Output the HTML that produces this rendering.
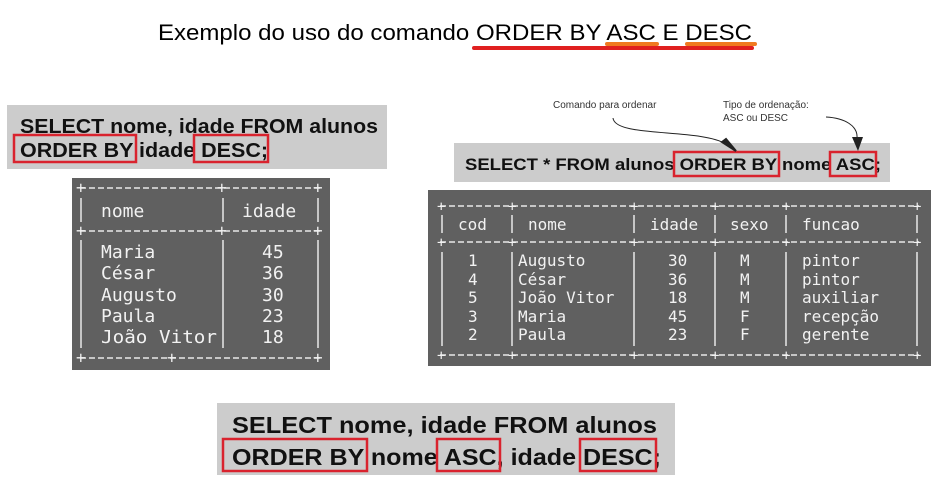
<!DOCTYPE html>
<html><head><meta charset="utf-8"><style>
html,body{margin:0;padding:0;background:#fff;}
svg{display:block;}
.m{font-family:"DejaVu Sans Mono","Liberation Mono",monospace;fill:#f2f2f2;}
.b{font-family:"Liberation Sans",sans-serif;font-weight:bold;fill:#111;}
</style></head><body>
<svg width="946" height="504" viewBox="0 0 946 504" xmlns="http://www.w3.org/2000/svg">
<text x="158" y="40" font-family="Liberation Sans,sans-serif" font-size="22" fill="#000" textLength="594" lengthAdjust="spacingAndGlyphs">Exemplo do uso do comando ORDER BY ASC E DESC</text>
<line x1="474" y1="48" x2="752" y2="48" stroke="#e02020" stroke-width="4" stroke-linecap="round"/>
<line x1="607" y1="44" x2="657" y2="44" stroke="#f07a20" stroke-width="4" stroke-linecap="round"/>
<line x1="687" y1="44" x2="755" y2="44" stroke="#f07a20" stroke-width="4" stroke-linecap="round"/>

<!-- left sql -->
<rect x="7" y="105" width="380" height="64" fill="#cccccc"/>
<text class="b" x="20" y="133" font-size="20" textLength="358" lengthAdjust="spacingAndGlyphs">SELECT nome, idade FROM alunos</text>
<text class="b" x="20" y="157" font-size="20" textLength="248" lengthAdjust="spacingAndGlyphs">ORDER BY idade DESC;</text>
<rect x="14" y="135" width="122" height="27" fill="none" stroke="#d9232e" stroke-width="2.5"/>
<rect x="194" y="135" width="74" height="27" fill="none" stroke="#d9232e" stroke-width="2.5"/>

<!-- left table -->
<rect x="72" y="178" width="258" height="192" fill="#606060"/>
<g stroke="#e8e8e8" stroke-width="1.5" stroke-dasharray="6,3">
<line x1="80" y1="188" x2="320" y2="188"/><line x1="80" y1="231" x2="320" y2="231"/><line x1="80" y1="358" x2="320" y2="358"/></g>
<g class="m" font-size="16"><text x="76" y="193">+</text><text x="217" y="193">+</text><text x="313" y="193">+</text>
<text x="76" y="236">+</text><text x="217" y="236">+</text><text x="313" y="236">+</text>
<text x="76" y="363">+</text><text x="167" y="363">+</text><text x="313" y="363">+</text></g>
<g stroke="#e8e8e8" stroke-width="1.5">
<line x1="81" y1="198" x2="81" y2="222"/><line x1="223" y1="198" x2="223" y2="222"/><line x1="318" y1="198" x2="318" y2="222"/>
<line x1="81" y1="240" x2="81" y2="348"/><line x1="223" y1="240" x2="223" y2="348"/><line x1="318" y1="240" x2="318" y2="348"/></g>
<text class="m" font-size="18" x="101" y="217">nome</text><text class="m" font-size="18" x="242" y="217">idade</text>
<g class="m" font-size="18">
<text x="101" y="258">Maria</text><text x="101" y="279">César</text><text x="101" y="301">Augusto</text><text x="101" y="322">Paula</text><text x="101" y="343" textLength="116" lengthAdjust="spacingAndGlyphs">João Vitor</text>
<text x="262" y="258">45</text><text x="262" y="279">36</text><text x="262" y="301">30</text><text x="262" y="322">23</text><text x="262" y="343">18</text></g>

<!-- right sql -->
<rect x="454" y="143" width="436" height="39" fill="#cccccc"/>
<text class="b" x="465" y="170" font-size="17" textLength="416" lengthAdjust="spacingAndGlyphs">SELECT * FROM alunos ORDER BY nome ASC;</text>
<rect x="674" y="152" width="105" height="24" fill="none" stroke="#d9232e" stroke-width="2.5"/>
<rect x="830" y="152" width="46" height="24" fill="none" stroke="#d9232e" stroke-width="2.5"/>

<!-- annotations -->
<text x="553" y="108" font-family="Liberation Sans,sans-serif" font-size="10" fill="#333">Comando para ordenar</text>
<text x="723" y="108" font-family="Liberation Sans,sans-serif" font-size="10" fill="#333">Tipo de ordenação:</text>
<text x="723" y="121" font-family="Liberation Sans,sans-serif" font-size="10" fill="#333">ASC ou DESC</text>
<path d="M613,118 C615,138 700,128 726,144" fill="none" stroke="#222" stroke-width="1"/>
<path d="M722,142 L736,151 L726,139 Z" fill="#222" stroke="#222" stroke-width="2"/>
<path d="M826,117 C845,118 858,126 857,138" fill="none" stroke="#222" stroke-width="1"/>
<polygon points="852,137 863,137 858,151" fill="#222"/>

<!-- right table -->
<rect x="428" y="190" width="503" height="176" fill="#606060"/>
<g stroke="#e8e8e8" stroke-width="1.5" stroke-dasharray="6,3">
<line x1="440" y1="206" x2="919" y2="206"/><line x1="440" y1="242" x2="919" y2="242"/><line x1="440" y1="355" x2="919" y2="355"/></g>
<g class="m" font-size="14">
<text x="437" y="211">+</text><text x="508" y="211">+</text><text x="630" y="211">+</text><text x="711" y="211">+</text><text x="782" y="211">+</text><text x="913" y="211">+</text>
<text x="437" y="247">+</text><text x="508" y="247">+</text><text x="630" y="247">+</text><text x="711" y="247">+</text><text x="782" y="247">+</text><text x="913" y="247">+</text>
<text x="437" y="360">+</text><text x="508" y="360">+</text><text x="630" y="360">+</text><text x="711" y="360">+</text><text x="782" y="360">+</text><text x="913" y="360">+</text></g>
<g stroke="#e8e8e8" stroke-width="1.5">
<line x1="442" y1="215" x2="442" y2="233"/><line x1="512" y1="215" x2="512" y2="233"/><line x1="634" y1="215" x2="634" y2="233"/><line x1="715" y1="215" x2="715" y2="233"/><line x1="786" y1="215" x2="786" y2="233"/><line x1="917" y1="215" x2="917" y2="233"/>
<line x1="442" y1="252" x2="442" y2="346"/><line x1="512" y1="252" x2="512" y2="346"/><line x1="634" y1="252" x2="634" y2="346"/><line x1="715" y1="252" x2="715" y2="346"/><line x1="786" y1="252" x2="786" y2="346"/><line x1="917" y1="252" x2="917" y2="346"/></g>
<g class="m" font-size="16">
<text x="458" y="230">cod</text><text x="528" y="230">nome</text><text x="650" y="230">idade</text><text x="730" y="230">sexo</text><text x="802" y="230">funcao</text>
<text x="468" y="266">1</text><text x="468" y="285">4</text><text x="468" y="303">5</text><text x="468" y="322">3</text><text x="468" y="340">2</text>
<text x="518" y="266">Augusto</text><text x="518" y="285">César</text><text x="518" y="303">João Vitor</text><text x="518" y="322">Maria</text><text x="518" y="340">Paula</text>
<text x="668" y="266">30</text><text x="668" y="285">36</text><text x="668" y="303">18</text><text x="668" y="322">45</text><text x="668" y="340">23</text>
<text x="740" y="266">M</text><text x="740" y="285">M</text><text x="740" y="303">M</text><text x="740" y="322">F</text><text x="740" y="340">F</text>
<text x="802" y="266">pintor</text><text x="802" y="285">pintor</text><text x="802" y="303">auxiliar</text><text x="802" y="322">recepção</text><text x="802" y="340">gerente</text></g>

<!-- bottom sql -->
<rect x="217" y="403" width="458" height="72" fill="#cccccc"/>
<text class="b" x="232" y="433" font-size="23" textLength="425" lengthAdjust="spacingAndGlyphs">SELECT nome, idade FROM alunos</text>
<text class="b" x="232" y="465" font-size="23" textLength="429" lengthAdjust="spacingAndGlyphs">ORDER BY nome ASC, idade DESC;</text>
<rect x="223" y="439" width="144" height="32" fill="none" stroke="#d9232e" stroke-width="2.5"/>
<rect x="437" y="439" width="63" height="32" fill="none" stroke="#d9232e" stroke-width="2.5"/>
<rect x="580" y="439" width="76" height="32" fill="none" stroke="#d9232e" stroke-width="2.5"/>
</svg>
</body></html>
